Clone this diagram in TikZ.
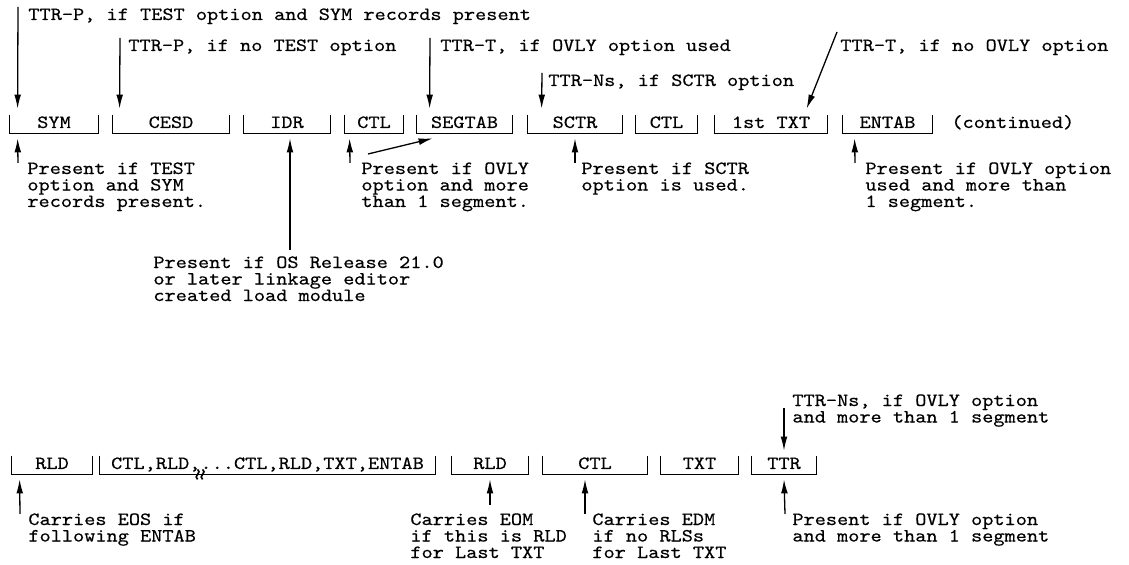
\documentclass[tikz,border=0pt]{standalone}
\usepackage{fontspec}
\setmonofont{lmmono10-regular.otf}[FakeStretch=1.14, FakeBold=0.4]
\usetikzlibrary{positioning,arrows.meta,calc}
\tikzset{
  rec/.style  ={inner sep=0pt, text height=6.5pt, text depth=2.5pt, anchor=base},
  note/.style ={inner sep=0pt, anchor=north west, align=left},
  lbl/.style  ={inner sep=0pt, anchor=base west},
  arr/.style  ={-{Latex[length=7pt,width=3.4pt]}, line width=0.65pt},
  brk/.style  ={line width=0.8pt},
}
\lineskiplimit=-20pt

\begin{document}
\begin{tikzpicture}[x=0.5pt, y=-0.5pt, font={\ttfamily\fontsize{9.33pt}{8.25pt}\selectfont}]
  \useasboundingbox (0,0) rectangle (1129,565);

  % first group of records
  \node[rec, minimum width=44pt]   (sym)    at (54,128)    {SYM};
  \node[rec, minimum width=58pt]   (cesd)   at (171,128)   {CESD};
  \node[rec, minimum width=43pt]   (idr)    at (287,128)   {IDR};
  \node[rec, minimum width=29pt]   (ctla)   at (374,128)   {CTL};
  \node[rec, minimum width=47.5pt] (segtab) at (464.5,128) {SEGTAB};
  \node[rec, minimum width=47pt]   (sctr)   at (575,128)   {SCTR};
  \node[rec, minimum width=30.5pt] (ctlb)   at (666.5,128) {CTL};
  \node[rec, minimum width=56pt]   (txta)   at (771,128)   {1st TXT};
  \node[rec, minimum width=44.5pt] (entab)  at (887.5,128) {ENTAB};
  \node[lbl] (cont) at (951,128) {(continued)};

  % second group of records
  \node[rec, minimum width=40pt]    (rlda) at (52,469)    {RLD};
  \node[rec, minimum width=167.5pt] (mix)  at (267.5,469) {CTL,RLD,...CTL,RLD,TXT,ENTAB};
  \node[rec, minimum width=38pt]    (rldb) at (490,469)   {RLD};
  \node[rec, minimum width=52pt]    (ctlc) at (595,469)   {CTL};
  \node[rec, minimum width=38.5pt]  (txtb) at (699.5,469) {TXT};
  \node[rec, minimum width=32pt]    (ttr)  at (784,469)   {TTR};

  % open-top brackets under every record
  \foreach \r in {sym,cesd,idr,ctla,segtab,sctr,ctlb,txta,entab,rlda,mix,rldb,ctlc,txtb,ttr}
    \draw[brk] (\r.north west) |- (\r.south east) -- (\r.north east);

  % break mark on the long record
  \draw[line width=0.8pt] ($(mix.south west)+(98,-5)$) .. controls +(5,3) and +(-5,-3) .. +(0,10);
  \draw[line width=0.8pt] ($(mix.south west)+(103,-5)$) .. controls +(5,3) and +(-5,-3) .. +(0,10);

  % TTR labels above
  \node[lbl] (ttrp)  at (28,20)  {TTR-P, if TEST option and SYM records present};
  \node[lbl] (ttrpn) at (128,51) {TTR-P, if no TEST option};
  \node[lbl] (ttrt)  at (440,51) {TTR-T, if OVLY option used};
  \node[lbl] (ttrns) at (548,86) {TTR-Ns, if SCTR option};
  \node[lbl] (ttrtn) at (840,51) {TTR-T, if no OVLY option};

  \draw[arr] ($(ttrp.north west)+(-10,-1)$)  -- ($(sym.north west)+(8,-6)$);
  \draw[arr] ($(ttrpn.north west)+(-8,-1)$)  -- ($(cesd.north west)+(7,-6)$);
  \draw[arr] ($(ttrt.north west)+(-10,-1)$)  -- ($(segtab.north west)+(13,-6)$);
  \draw[arr] ($(ttrns.north west)+(-6,-1)$)  -- ($(sctr.north west)+(14,-6)$);
  \draw[arr] ($(ttrtn.north west)+(-3,-7)$)  -- ($(txta.north west)+(92,-6)$);

  % notes below the first group
  \node[note] (nsym)   at (27,162)  {Present if TEST\\option and SYM\\records present.};
  \node[note] (nidr)   at (153,256) {Present if OS Release 21.0\\or later linkage editor\\created load module};
  \node[note] (nctl)   at (361,162) {Present if OVLY\\option and more\\than 1 segment.};
  \node[note] (nsctr)  at (581,162) {Present if SCTR\\option is used.};
  \node[note] (nentab) at (865,162) {Present if OVLY option\\used and more than\\1 segment.};

  \draw[arr] ($(nsym.north west)+(-9,1)$)      -- ($(sym.south west)+(8,5)$);
  \draw[arr] ($(idr.south |- nidr.north)+(3,-6)$) -- ($(idr.south)+(3,5)$);
  \draw[arr] ($(nctl.north west)+(-11,1)$)     -- ($(ctla.south west)+(5,5)$);
  \draw[arr] ($(nctl.north west)+(7,-8)$)      -- ($(segtab.south west)+(16,5)$);
  \draw[arr] ($(nsctr.north west)+(-6,1)$)     -- ($(sctr.south)+(0,5)$);
  \draw[arr] ($(nentab.north west)+(-10,1)$)   -- ($(entab.south west)+(12,5)$);

  % notes round the second group
  \node[note] (nttrns) at (792,394) {TTR-Ns, if OVLY option\\and more than 1 segment};
  \node[note] (neos)   at (28,513)  {Carries EOS if\\following ENTAB};
  \node[note] (neom)   at (410,513) {Carries EOM\\if this is RLD\\for Last TXT};
  \node[note] (nedm)   at (592,513) {Carries EDM\\if no RLSs\\for Last TXT};
  \node[note] (nttr)   at (792,513) {Present if OVLY option\\and more than 1 segment};

  \draw[arr] ($(nttrns.north west)+(-8,14)$)      -- ($(ttr.north)+(0,-5)$);
  \draw[arr] ($(neos.north west)+(-8,1)$)         -- ($(rlda.south west)+(8,5)$);
  \draw[arr] ($(rldb.south |- neom.north)+(0,-8)$) -- ($(rldb.south)+(0,5)$);
  \draw[arr] ($(nedm.north west)+(-7,1)$)         -- ($(ctlc.south)+(-10,5)$);
  \draw[arr] ($(nttr.north west)+(-7,1)$)         -- ($(ttr.south)+(0,5)$);
\end{tikzpicture}
\end{document}
